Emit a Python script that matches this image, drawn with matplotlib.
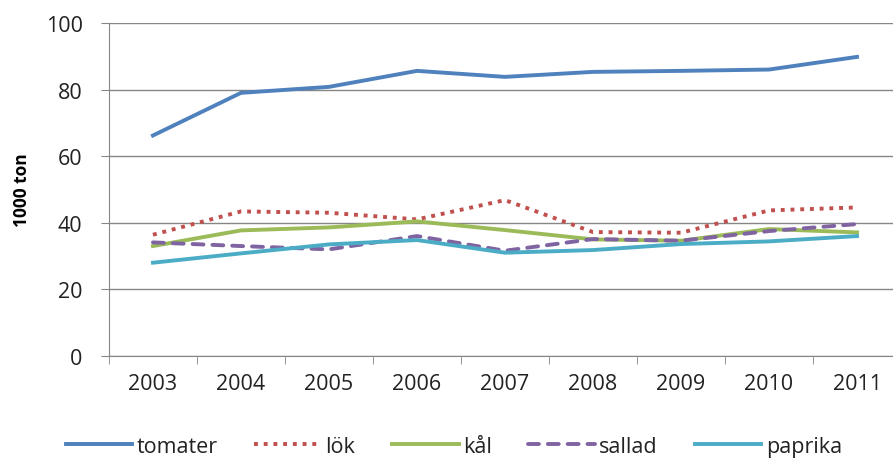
import matplotlib.pyplot as plt

plt.rcParams['font.family'] = ['Open Sans', 'DejaVu Sans']

years = ['2003', '2004', '2005', '2006', '2007', '2008', '2009', '2010', '2011']
tomater = [66.2, 79.0, 80.8, 85.6, 83.8, 85.3, 85.6, 86.0, 89.8]
lok = [36.4, 43.4, 43.0, 41.0, 46.8, 37.2, 37.0, 43.7, 44.6]
kal = [33.0, 37.7, 38.6, 40.4, 37.8, 35.0, 34.6, 38.1, 37.1]
sallad = [34.1, 33.0, 32.0, 36.0, 31.6, 35.1, 34.6, 37.5, 39.6]
paprika = [28.0, 30.8, 33.5, 34.8, 31.0, 31.8, 33.6, 34.4, 36.0]

fig = plt.figure(figsize=(8.93, 4.6), dpi=100)
# axes run slightly past the right edge, like the original
ax = fig.add_axes([0.122, 0.224, 0.887, 0.724])

x = range(len(years))
lw = 2.8
ax.plot(x, tomater, color='#4F81BD', lw=lw, label='tomater')
ax.plot(x, lok, color='#C0504D', lw=lw, ls=(0, (1, 1.5)), label='lök')
ax.plot(x, kal, color='#9BBB59', lw=lw, label='kål')
ax.plot(x, sallad, color='#8064A2', lw=lw, ls=(0, (2.8, 2.3)), dash_capstyle='round', label='sallad')
ax.plot(x, paprika, color='#4BACC6', lw=lw, label='paprika')

ax.set_xlim(-0.5, len(years) - 0.5)
ax.set_ylim(0, 100)
ax.set_yticks(range(0, 101, 20))
ax.set_xticks(list(x))
ax.set_xticklabels(years)
ax.set_xticks([i + 0.5 for i in range(-1, len(years))], minor=True)
ax.tick_params(axis='x', which='major', length=0, pad=12, labelsize=15.5, labelcolor='#222222')
ax.tick_params(axis='x', which='minor', length=6, color='#868686')
ax.tick_params(axis='y', length=6, color='#868686', labelsize=15.5, pad=13, labelcolor='#222222')

ax.grid(axis='y', color='#868686', lw=1)
ax.set_axisbelow(True)
for s in ['top', 'right']:
    ax.spines[s].set_visible(False)
for s in ['left', 'bottom']:
    ax.spines[s].set_color('#868686')

ax.set_ylabel('1000 ton', fontweight='bold', fontsize=12.5)
ax.yaxis.set_label_coords(-0.099, 0.5)

fig.legend(loc='center', bbox_to_anchor=(0.508, 0.028), ncol=5, frameon=False,
           fontsize=15.5, handlelength=3.1, handletextpad=0.2, columnspacing=1.7,
           labelcolor='#222222')

fig.savefig('out.png', dpi=100)
